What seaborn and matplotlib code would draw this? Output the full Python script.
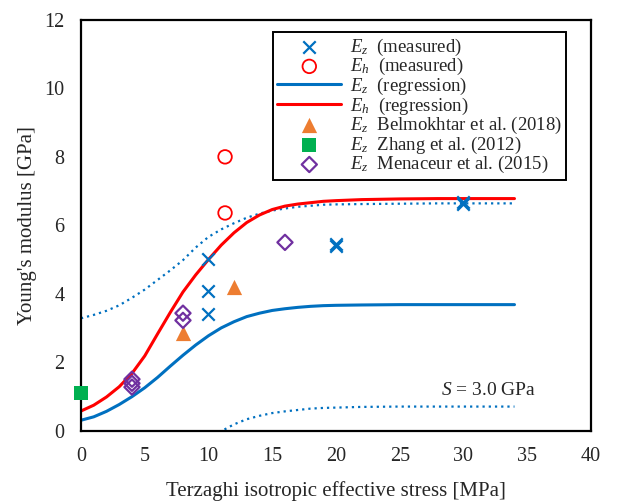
import matplotlib
matplotlib.use("Agg")
import matplotlib.pyplot as plt
import numpy as np
import pandas as pd
import seaborn as sns

# ---- data ----
ez_meas_x = [10, 10, 10, 20, 20, 30, 30]
ez_meas_y = [5.0, 4.07, 3.41, 5.46, 5.38, 6.69, 6.62]
eh_meas_x = [11.3, 11.3]
eh_meas_y = [8.0, 6.36]
belm_x = [8, 12]
belm_y = [2.85, 4.19]
zhang_x = [0]
zhang_y = [1.1]
mena_x = [4, 4, 4, 8, 8, 16]
mena_y = [1.5, 1.38, 1.27, 3.43, 3.22, 5.5]

reg_x = [0, 1, 2, 3, 4, 5, 6, 7, 8, 9, 10, 11, 12, 13, 14, 15, 16, 17, 18, 19, 20,
         22, 25, 28, 31, 34]
ez_reg = [0.30, 0.40, 0.56, 0.76, 0.99, 1.25, 1.55, 1.88, 2.20, 2.50, 2.77, 3.00,
          3.18, 3.33, 3.43, 3.51, 3.56, 3.60, 3.63, 3.65, 3.66, 3.67, 3.68, 3.68,
          3.68, 3.68]
eh_reg = [0.57, 0.74, 0.98, 1.28, 1.67, 2.18, 2.82, 3.45, 4.05, 4.55, 5.00, 5.42,
          5.78, 6.08, 6.30, 6.46, 6.56, 6.62, 6.66, 6.70, 6.72, 6.75, 6.77, 6.78,
          6.78, 6.78]
ez_upper = [3.28, 3.38, 3.50, 3.66, 3.88, 4.12, 4.40, 4.68, 4.98, 5.35, 5.66, 5.88,
            6.06, 6.22, 6.34, 6.43, 6.49, 6.54, 6.57, 6.60, 6.61, 6.62, 6.63, 6.64,
            6.64, 6.64]
low_x = [10, 11, 12, 13, 14, 15, 16, 17, 18, 19, 20, 22, 25, 28, 31, 34]
ez_lower = [-0.25, -0.02, 0.18, 0.33, 0.43, 0.51, 0.56, 0.60, 0.64, 0.66, 0.67,
            0.69, 0.70, 0.70, 0.70, 0.70]

x_ticks = [0, 5, 10, 15, 20, 25, 30, 35, 40]
y_ticks = [0, 2, 4, 6, 8, 10, 12]

BLUE = "#0070C0"
RED = "#FF0000"
ORANGE = "#ED7D31"
GREEN = "#00B050"
PURPLE = "#7030A0"

sns.set_style("white")
plt.rcParams["font.family"] = ["Liberation Serif", "DejaVu Serif"]
plt.rcParams["mathtext.fontset"] = "custom"
plt.rcParams["mathtext.rm"] = "Liberation Serif"
plt.rcParams["mathtext.it"] = "Liberation Serif:italic"

fig = plt.figure(figsize=(6.2, 5.03), dpi=100)
ax = fig.add_axes([0.1306, 0.1441, 0.8226, 0.8161])

# dotted bounds (not in legend)
sns.lineplot(x=reg_x, y=ez_upper, ax=ax, color=BLUE, lw=1.6,
             linestyle=(0, (1, 1.8)), legend=False)
sns.lineplot(x=low_x, y=ez_lower, ax=ax, color=BLUE, lw=1.6,
             linestyle=(0, (1, 1.8)), legend=False)

sns.scatterplot(x=ez_meas_x, y=ez_meas_y, ax=ax, marker="x", color=BLUE,
                s=80, linewidth=1.6, label=r"$E_z$  (measured)", zorder=4)
sns.scatterplot(x=eh_meas_x, y=eh_meas_y, ax=ax, marker="o", facecolor="none",
                edgecolor=RED, s=95, linewidth=1.3, label=r"$E_h$  (measured)", zorder=4)
sns.lineplot(x=reg_x, y=ez_reg, ax=ax, color=BLUE, lw=2.2,
             label=r"$E_z$  (regression)")
sns.lineplot(x=reg_x, y=eh_reg, ax=ax, color=RED, lw=2.2,
             label=r"$E_h$  (regression)")
sns.scatterplot(x=belm_x, y=belm_y, ax=ax, marker="^", color=ORANGE,
                s=120, linewidth=0, label=r"$E_z$  Belmokhtar et al. (2018)", zorder=4)
sns.scatterplot(x=zhang_x, y=zhang_y, ax=ax, marker="s", color=GREEN,
                s=110, linewidth=0, label=r"$E_z$  Zhang et al. (2012)", zorder=5,
                clip_on=False)
sns.scatterplot(x=mena_x, y=mena_y, ax=ax, marker="D", facecolor="none",
                edgecolor=PURPLE, s=60, linewidth=1.6,
                label=r"$E_z$  Menaceur et al. (2015)", zorder=4)

ax.text(32, 1.18, r"$S$ = 3.0 GPa", fontsize=14, ha="center", va="center")

ax.set_xlim(0, 40)
ax.set_ylim(0, 12)
ax.set_xticks(x_ticks)
ax.set_yticks(y_ticks)
ax.tick_params(direction="in", length=5, width=1.2, labelsize=14.5, color="black")
ax.tick_params(axis="x", pad=12)
ax.tick_params(axis="y", pad=12)
for sp in ax.spines.values():
    sp.set_color("black")
    sp.set_linewidth(1.6)
    sp.set_visible(True)

ax.set_xlabel("Terzaghi isotropic effective stress [MPa]", fontsize=15, labelpad=11)
ax.set_ylabel("Young's modulus [GPa]", fontsize=15, labelpad=5)

leg = ax.legend(loc="upper left", bbox_to_anchor=(0.376, 0.971), fontsize=13.5,
                frameon=True, fancybox=False, framealpha=1, edgecolor="black",
                handlelength=3.4, handletextpad=0.45, labelspacing=-0.08,
                borderpad=0.25, borderaxespad=0)
leg.get_frame().set_linewidth(1.4)

fig.savefig("out.png", dpi=100)
